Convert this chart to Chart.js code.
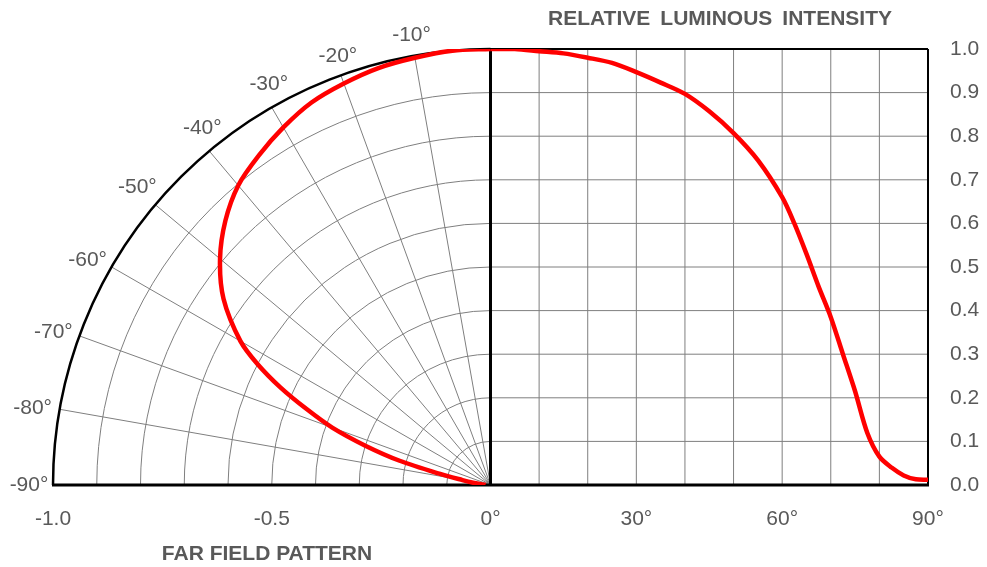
<!DOCTYPE html>
<html>
<head>
<meta charset="utf-8">
<script src="https://cdn.jsdelivr.net/npm/chart.js@4.4.1/dist/chart.umd.min.js"></script>
<style>
  html, body { margin: 0; background: #fff; }
</style>
</head>
<body>
<canvas id="c" width="987" height="567"></canvas>
<script>
// relative luminous intensity vs. angle (deg)
const angles = [0, 5, 10, 15, 20, 25, 30, 35, 40, 45, 50, 55, 60, 62.5, 65, 67.5, 70, 72.5, 75, 77.5, 80, 82.5, 85, 87.5, 90];
const intensity = [1.0, 1.0, 0.995, 0.99, 0.98, 0.968, 0.947, 0.923, 0.897, 0.857, 0.807, 0.745, 0.66, 0.6, 0.53, 0.455, 0.385, 0.3, 0.215, 0.12, 0.065, 0.04, 0.022, 0.013, 0.012];

// axes / grid
const leftTicks = [-1.0, -0.5];
const leftTickLabels = ['-1.0', '-0.5'];
const rightTickAngles = [0, 30, 60, 90];
const gridAngles = [10, 20, 30, 40, 50, 60, 70, 80];
const gridLevels = [0.1, 0.2, 0.3, 0.4, 0.5, 0.6, 0.7, 0.8, 0.9];
const polarRings = [0.1, 0.2, 0.3, 0.4, 0.5, 0.6, 0.7, 0.8, 0.9];
const spokeAngles = [10, 20, 30, 40, 50, 60, 70, 80];
const spokeLabelAngles = [10, 20, 30, 40, 50, 60, 70, 80, 90];
const spokeLabels = ['-10°', '-20°', '-30°', '-40°', '-50°', '-60°', '-70°', '-80°', '-90°'];
const titleRight = 'RELATIVE \u2009LUMINOUS \u2009INTENSITY';
const titleLeft = 'FAR FIELD PATTERN';

const palette = {
  curve: '#ff0000',
  grid: '#7f7f7f',
  frame: '#000000',
  text: '#595959',
};
const fontFamily = "'Liberation Sans', Arial, sans-serif";

// label nudges (px) from the end of each spoke, same order as spokeLabels
const spokeLabelOffsets = [[-3, -20], [-3, -19], [-3, -23], [-7, -23], [-18, -18], [-24, -7], [-26, -4], [-27, -1], [-24, 0]];

const rad = (d) => d * Math.PI / 180;
const polarPoints = angles.map((a, i) => ({
  x: -intensity[i] * Math.sin(rad(a)),
  y: intensity[i] * Math.cos(rad(a)),
}));
const cartesianPoints = angles.map((a, i) => ({ x: a / 90, y: intensity[i] }));

const xTickValues = leftTicks.concat(rightTickAngles.map((a) => a / 90));
const xTickLabels = leftTickLabels.concat(rightTickAngles.map((a) => a + '°'));

function line(ctx, x1, y1, x2, y2) {
  ctx.beginPath();
  ctx.moveTo(x1, y1);
  ctx.lineTo(x2, y2);
  ctx.stroke();
}

const farField = {
  id: 'farField',
  beforeDatasetsDraw(chart) {
    const { ctx, scales: { x, y } } = chart;
    const cx = x.getPixelForValue(0);
    const cy = y.getPixelForValue(0);
    const rx = cx - x.getPixelForValue(-1);
    const ry = cy - y.getPixelForValue(1);
    ctx.save();
    ctx.strokeStyle = palette.grid;
    ctx.lineWidth = 1;
    // polar grid
    polarRings.forEach((r) => {
      ctx.beginPath();
      ctx.ellipse(cx, cy, r * rx, r * ry, 0, Math.PI, 1.5 * Math.PI);
      ctx.stroke();
    });
    spokeAngles.forEach((a) => {
      line(ctx, cx, cy, x.getPixelForValue(-Math.sin(rad(a))), y.getPixelForValue(Math.cos(rad(a))));
    });
    // cartesian grid
    gridAngles.forEach((a) => {
      const px = x.getPixelForValue(a / 90);
      line(ctx, px, y.getPixelForValue(0), px, y.getPixelForValue(1));
    });
    gridLevels.forEach((v) => {
      const py = y.getPixelForValue(v);
      line(ctx, cx, py, x.getPixelForValue(1), py);
    });
    // frame
    ctx.strokeStyle = palette.frame;
    ctx.lineWidth = 2.5;
    ctx.beginPath();
    ctx.ellipse(cx, cy, rx, ry, 0, Math.PI, 1.5 * Math.PI);
    ctx.stroke();
    ctx.lineWidth = 2;
    line(ctx, cx, y.getPixelForValue(1), x.getPixelForValue(1), y.getPixelForValue(1));
    line(ctx, x.getPixelForValue(1), y.getPixelForValue(1), x.getPixelForValue(1), cy);
    ctx.lineWidth = 3;
    line(ctx, cx, y.getPixelForValue(1) - 1, cx, cy);
    line(ctx, x.getPixelForValue(-1) - 1, cy, x.getPixelForValue(1) + 1, cy);
    ctx.restore();
  },
  afterDraw(chart) {
    const { ctx, scales: { x, y } } = chart;
    ctx.save();
    ctx.fillStyle = palette.text;
    ctx.textAlign = 'center';
    ctx.textBaseline = 'middle';
    ctx.font = '21px ' + fontFamily;
    spokeLabelAngles.forEach((a, i) => {
      const ex = x.getPixelForValue(-Math.sin(rad(a)));
      const ey = y.getPixelForValue(Math.cos(rad(a)));
      const [dx, dy] = spokeLabelOffsets[i];
      ctx.fillText(spokeLabels[i], ex + dx, ey + dy);
    });
    ctx.font = 'bold 21px ' + fontFamily;
    ctx.fillText(titleRight, 720, 19);
    ctx.fillText(titleLeft, 267, 554);
    ctx.restore();
  },
};

new Chart(document.getElementById('c'), {
  type: 'scatter',
  data: {
    datasets: [
      {
        label: 'far field',
        data: polarPoints,
        showLine: true,
        borderColor: palette.curve,
        borderWidth: 4.5,
        tension: 0.3,
        pointRadius: 0,
      },
      {
        label: 'intensity',
        data: cartesianPoints,
        showLine: true,
        borderColor: palette.curve,
        borderWidth: 4.5,
        tension: 0.3,
        pointRadius: 0,
      },
    ],
  },
  options: {
    responsive: false,
    animation: false,
    layout: { padding: { left: 53, top: 49, right: 0, bottom: 0 } },
    plugins: {
      legend: { display: false },
      tooltip: { enabled: false },
    },
    scales: {
      x: {
        type: 'linear',
        min: -1,
        max: 1,
        grid: { display: false, drawTicks: false },
        border: { display: false },
        afterBuildTicks: (scale) => { scale.ticks = xTickValues.map((v) => ({ value: v })); },
        afterFit: (scale) => { scale.height = 82; },
        ticks: {
          autoSkip: false,
          maxRotation: 0,
          padding: 22,
          color: palette.text,
          font: { family: fontFamily, size: 21 },
          callback: (v, i) => xTickLabels[i],
        },
      },
      y: {
        type: 'linear',
        position: 'right',
        min: 0,
        max: 1,
        grid: { display: false, drawTicks: false },
        border: { display: false },
        afterFit: (scale) => { scale.width = 59; },
        ticks: {
          stepSize: 0.1,
          padding: 22,
          color: palette.text,
          font: { family: fontFamily, size: 21 },
          callback: (v) => v.toFixed(1),
        },
      },
    },
  },
  plugins: [farField],
});
</script>
</body>
</html>
